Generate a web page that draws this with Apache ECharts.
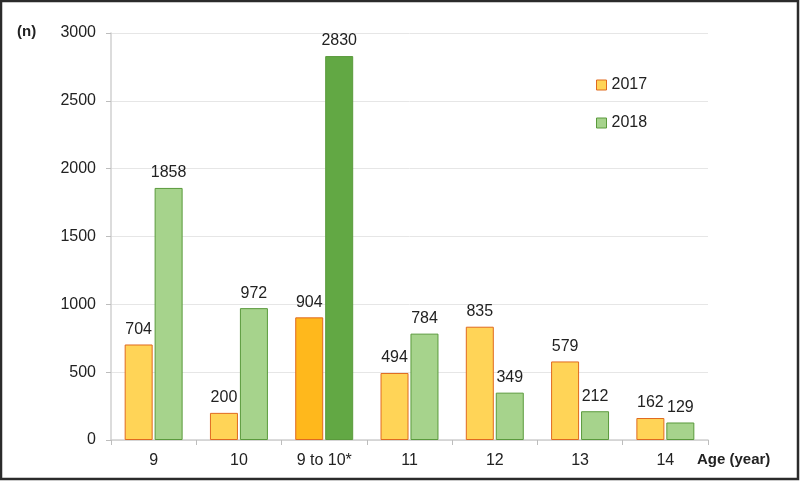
<!DOCTYPE html>
<html>
<head>
<meta charset="utf-8">
<script src="https://cdn.jsdelivr.net/npm/echarts@6/dist/echarts.min.js"></script>
<style>
  html, body { margin: 0; padding: 0; background: #fff; }
  #chart { width: 800px; height: 481px; }
</style>
</head>
<body>
<div id="chart"></div>
<script>
var ages = ['9', '10', '9 to 10*', '11', '12', '13', '14'];
var values2017 = [704, 200, 904, 494, 835, 579, 162];
var values2018 = [1858, 972, 2830, 784, 349, 212, 129];
var highlightIndex = 2;

var chart_element = document.getElementById('chart');
var chart = echarts.init(chart_element);

function makeData(values, normalColor, strongColor, borderColor) {
    return values.map(function (v, i) {
        return {
            value: v,
            itemStyle: {
                color: i === highlightIndex ? strongColor : normalColor,
                borderColor: borderColor,
                borderWidth: 1
            }
        };
    });
}

var labelStyle = {
    show: true,
    position: 'top',
    distance: 7,
    color: '#222',
    fontSize: 16,
    fontFamily: 'Liberation Sans, Arial, sans-serif'
};

chart.setOption({
    animation: false,
    textStyle: {
        fontFamily: 'Liberation Sans, Arial, sans-serif'
    },
    graphic: [
        {
            type: 'rect',
            shape: { x: 1, y: 1, width: 797, height: 478 },
            style: { fill: null, stroke: '#2b2b2b', lineWidth: 2.5 },
            silent: true
        },
        {
            type: 'text',
            left: 17,
            top: 24,
            style: { text: '(n)', fontSize: 15, fontWeight: 'bold', fill: '#222', fontFamily: 'Liberation Sans, Arial, sans-serif' }
        },
        {
            type: 'text',
            left: 697,
            top: 452,
            style: { text: 'Age (year)', fontSize: 15, fontWeight: 'bold', fill: '#222', fontFamily: 'Liberation Sans, Arial, sans-serif' }
        }
    ],
    legend: {
        orient: 'vertical',
        left: 591,
        top: 72,
        itemGap: 22,
        itemWidth: 10,
        itemHeight: 10,
        icon: 'rect',
        textStyle: { fontSize: 16, color: '#222' },
        data: [
            { name: '2017', itemStyle: { color: '#FFD457', borderColor: '#E06A1F', borderWidth: 1 } },
            { name: '2018', itemStyle: { color: '#A6D38C', borderColor: '#5A9A3C', borderWidth: 1 } }
        ]
    },
    grid: {
        left: 111,
        right: 92,
        top: 33,
        bottom: 41,
        containLabel: false
    },
    xAxis: {
        type: 'category',
        data: ages,
        axisLine: { lineStyle: { color: '#d0d0d0', width: 1.5 } },
        axisTick: { show: true, alignWithLabel: false, length: 5, lineStyle: { color: '#bdbdbd' } },
        axisLabel: { color: '#222', fontSize: 16, margin: 13 }
    },
    yAxis: {
        type: 'value',
        min: 0,
        max: 3000,
        interval: 500,
        axisLine: { show: true, lineStyle: { color: '#d0d0d0', width: 1.5 } },
        axisTick: { show: true, length: 5, lineStyle: { color: '#bdbdbd' } },
        axisLabel: { color: '#222', fontSize: 16, margin: 15, formatter: function (v) { return String(v); } },
        splitLine: { lineStyle: { color: '#e6e6e6' } }
    },
    series: [
        {
            name: '2017',
            type: 'bar',
            barWidth: 28,
            barGap: '7%',
            data: makeData(values2017, '#FFD457', '#FFB81C', '#E06A1F'),
            label: labelStyle
        },
        {
            name: '2018',
            type: 'bar',
            barWidth: 28,
            data: makeData(values2018, '#A6D38C', '#62A844', '#5A9A3C'),
            label: labelStyle
        }
    ]
});
</script>
</body>
</html>
